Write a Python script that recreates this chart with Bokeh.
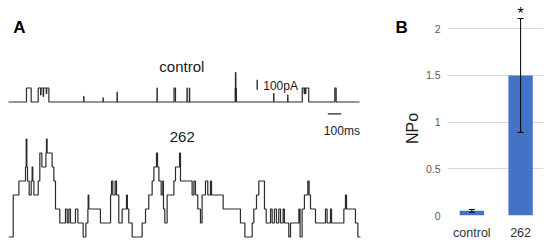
import numpy as np
from bokeh.plotting import figure
from bokeh.layouts import row
from bokeh.models import Range1d, FixedTicker, Whisker, ColumnDataSource, TeeHead
from bokeh.embed import file_html
from bokeh.resources import INLINE
from bokeh.core.properties import value

# ---------------- Panel A data: single-channel traces ----------------
# breakpoints (ms) and number of open channels from that time on
control_t = [0, 133, 168, 220, 238, 241, 257, 260, 280, 283, 299,
             557, 559, 700, 702, 804, 806, 1100, 1102, 1226, 1237,
             1322, 1324, 1340, 1342, 1679, 1681, 1684, 1688,
             1964, 1966, 2068, 2070, 2176, 2190, 2193, 2200, 2203, 2224,
             2417, 2427]
control_level = [0, 1, 0, 1, 0.5, 1, 0.4, 1, 0.6, 1, 0,
                 0.4, 0, 0.3, 0, 0.7, 0, 1, 0, 1, 0,
                 1, 0, 1, 0, 1, 2.1, 1, 0,
                 0.6, 0, 0.5, 0, 1, 0.6, 1, 0.6, 1, 0,
                 1, 0]
control_end = 2600

drug_t = [2, 35, 77, 126, 131, 136, 141, 153, 168, 175, 180, 188, 220, 232,
          247, 277, 281, 286, 323, 336, 348, 380, 422, 435, 447, 459, 496,
          514, 553, 573, 588, 590, 595, 681, 756, 763, 773, 790, 800, 817,
          842, 874, 881, 891, 916, 990, 1015, 1039, 1064, 1077, 1096, 1104,
          1114, 1131, 1143, 1148, 1158, 1175, 1225, 1237, 1267, 1274, 1360,
          1373, 1385, 1402, 1422, 1434, 1459, 1476, 1496, 1504, 1590, 1718,
          1751, 1805, 1817, 1837, 1854, 1896, 1909, 1941, 1953, 1970, 1985,
          2002, 2015, 2034, 2044, 2076, 2089, 2151, 2160, 2175, 2192, 2217,
          2227, 2237, 2274, 2348, 2360, 2385, 2393, 2484, 2496, 2504, 2570,
          2588]
drug_level = [0, 3, 4, 5, 7, 5, 4, 3, 4, 5, 4, 3, 4, 6,
              5, 6, 7, 6, 5, 4, 2, 1, 2, 1, 2, 1, 2,
              1, 0, 1, 2, 3, 2, 1, 3, 4, 3, 4, 3, 1,
              2, 3, 2, 1, 0, 1, 2, 3, 4, 5, 6, 5,
              4, 3, 4, 2, 1, 3, 4, 5, 6, 4, 3,
              4, 3, 2, 1, 3, 4, 3, 4, 3, 2, 1,
              0, 1, 2, 3, 4, 2, 1, 2, 1, 2, 1,
              2, 1, 2, 1, 0, 1, 2, 0, 2, 3, 4,
              3, 2, 1, 2, 1, 2, 1, 2, 3, 2, 1,
              0]
drug_end = 2607

unit_pA = 140            # single-channel amplitude
scale_pA = 100           # vertical scale bar
scale_ms = 100           # horizontal scale bar

# ---------------- Panel B data ----------------
categories = ["control", "262"]
npo_mean = [0.05, 1.5]
npo_err = [0.015, 0.61]
y_ticks = [0, 0.5, 1, 1.5, 2]
y_tick_labels = ["0", "0.5", "1", "1.5", "2"]

FONT = value("Liberation Sans")
PX_PER_MS = 0.135
PX_PER_PA = 0.1

# ================= Panel A (and panel-B letter / y title) =================
WA, H = 422, 244
pA = figure(width=WA, height=H,
            x_range=Range1d(-8 / PX_PER_MS, (WA - 8) / PX_PER_MS),
            y_range=Range1d(-(H - 236) / PX_PER_PA, 236 / PX_PER_PA),
            output_backend="svg", toolbar_location=None,
            x_axis_location=None, y_axis_location=None,
            min_border=0, min_border_left=0, min_border_right=0,
            min_border_top=0, min_border_bottom=0)
pA.grid.visible = False
pA.outline_line_color = None

ctrl_base = 1345
drug_base = -5

cx = control_t + [control_end]
cy = list(ctrl_base + unit_pA * np.array(control_level + [control_level[-1]]))
pA.step(x=cx, y=cy, mode="after", line_color="#2b2b2b", line_width=1.2)

dx = drug_t + [drug_end]
dy = list(drug_base + unit_pA * np.array(drug_level + [drug_level[-1]]))
pA.step(x=dx, y=dy, mode="after", line_color="#2b2b2b", line_width=1.2)

# scale bars
pA.segment(x0=[1842], y0=[1467], x1=[1842], y1=[1467 + scale_pA],
           line_color="#222222", line_width=1.3)
pA.segment(x0=[2365], y0=[1227], x1=[2365 + scale_ms], y1=[1227],
           line_color="#222222", line_width=1.3)

pA.text(x=[1887], y=[1510], text=[f"{scale_pA}pA"], text_font=FONT,
        text_font_size="12px", text_align="left", text_baseline="alphabetic",
        text_color="#1a1a1a")
pA.text(x=[2336], y=[1053], text=[f"{scale_ms}ms"], text_font=FONT,
        text_font_size="12px", text_align="left", text_baseline="alphabetic",
        text_color="#1a1a1a")
pA.text(x=[1284, 1287], y=[1700, 1000], text=categories, text_font=FONT,
        text_font_size="15px", text_align="center", text_baseline="alphabetic",
        text_color="#1a1a1a")
pA.text(x=[35, 2867], y=[2093, 2093], text=["A", "B"], text_font=FONT,
        text_font_size="17px", text_font_style="bold", text_align="left",
        text_baseline="alphabetic", text_color="#000000")
pA.text(x=[2990], y=[1080], text=["NPo"], angle=np.pi / 2, text_font=FONT,
        text_font_size="16px", text_align="center", text_baseline="middle",
        text_color="#1a1a1a")

# ================= Panel B =================
WB = 550 - WA
FL, FR, FB = 22, 7, 29          # borders around the plot area
fw = WB - FL - FR
fh = H - FB
px_per_cat = 50.26
px_per_unit = 93.35
pB = figure(width=WB, height=H,
            x_range=Range1d(-0.5, -0.5 + fw / px_per_cat),
            y_range=Range1d(0, fh / px_per_unit),
            output_backend="svg", toolbar_location=None,
            min_border_left=FL, min_border_right=FR,
            min_border_top=0, min_border_bottom=FB)
for fig in (pA, pB):
    try:
        fig.frame_align = False
    except Exception:
        pass
pB.outline_line_color = None
pB.xgrid.visible = False
pB.ygrid.grid_line_color = "#D9D9D9"
pB.ygrid.grid_line_width = 1

pB.yaxis.ticker = FixedTicker(ticks=y_ticks)
pB.yaxis.major_label_overrides = {t: l for t, l in zip(y_ticks, y_tick_labels)}
pB.yaxis.axis_line_color = None
pB.yaxis.major_tick_line_color = None
pB.yaxis.minor_tick_line_color = None
pB.yaxis.major_tick_out = 0
pB.yaxis.major_tick_in = 0
pB.yaxis.major_label_standoff = 7
pB.yaxis.major_label_text_font = "Liberation Sans"
pB.yaxis.major_label_text_font_size = "10.5px"
pB.yaxis.major_label_text_color = "#595959"

xpos = list(range(len(categories)))
pB.xaxis.ticker = FixedTicker(ticks=xpos)
pB.xaxis.major_label_overrides = {i: c for i, c in zip(xpos, categories)}
pB.xaxis.axis_line_color = None
pB.xaxis.major_tick_line_color = None
pB.xaxis.minor_tick_line_color = None
pB.xaxis.major_tick_out = 0
pB.xaxis.major_tick_in = 0
pB.xaxis.major_label_standoff = 10
pB.xaxis.major_label_text_font = "Liberation Sans"
pB.xaxis.major_label_text_font_size = "12.5px"
pB.xaxis.major_label_text_color = "#333333"

pB.vbar(x=xpos, top=npo_mean, width=0.5, fill_color="#4472C4", line_color=None)

upper = [m + e for m, e in zip(npo_mean, npo_err)]
lower = [m - e for m, e in zip(npo_mean, npo_err)]
src = ColumnDataSource(dict(x=xpos, upper=upper, lower=lower))
wh = Whisker(base="x", upper="upper", lower="lower", source=src,
             line_color="black", line_width=1,
             upper_head=TeeHead(size=6, line_color="black", line_width=1),
             lower_head=TeeHead(size=6, line_color="black", line_width=1),
             level="overlay")
pB.add_layout(wh)

pB.text(x=[1], y=[upper[1]], text=["*"], y_offset=-5, text_font=FONT,
        text_font_size="16px", text_align="center", text_baseline="alphabetic",
        text_color="#000000")

layout = row(pA, pB)
open("out.html", "w").write(file_html(layout, INLINE))
